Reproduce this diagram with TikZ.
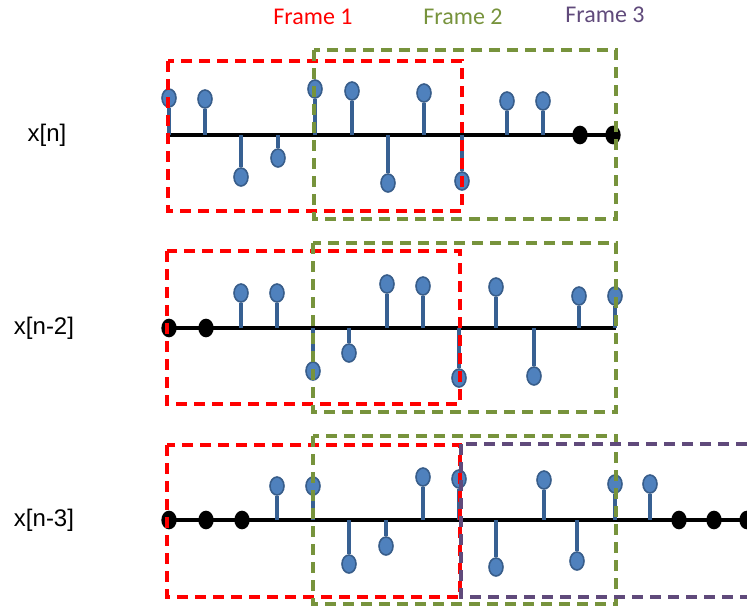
\documentclass[tikz,border=0pt]{standalone}
\usepackage{fontspec}
\setmainfont{Liberation Sans}
\newfontfamily\framefont{Carlito}
\usetikzlibrary{shapes.geometric}

\definecolor{stemblue}{HTML}{376092}
\definecolor{dotblue}{HTML}{4F81BD}
\definecolor{dotedge}{HTML}{385D8A}
\definecolor{frgreen}{HTML}{77933C}
\definecolor{frpurple}{HTML}{604A7B}

\tikzset{
  axisline/.style={line width=2.5pt, black},
  stemline/.style={line width=3.4pt, stemblue},
  lolli/.style={ellipse, fill=dotblue, draw=dotedge, line width=1.2pt,
    minimum width=10.5pt, minimum height=13.5pt, inner sep=0pt},
  zero/.style={ellipse, fill=black, minimum width=11.5pt, minimum height=14pt, inner sep=0pt},
  framebox/.style={line width=2.3pt, dash pattern=on 8.5pt off 5pt},
  lbl/.style={font=\fontsize{18}{22}\selectfont},
  ftitle/.style={font=\framefont\fontsize{18}{22}\selectfont}
}

\begin{document}
\begin{tikzpicture}[x=0.75pt, y=-0.75pt]
  \useasboundingbox (0,0) rectangle (747,608);

  % Frame titles
  \node[ftitle, text=red] (t1) at (313,17) {Frame 1};
  \node[ftitle, text=frgreen] (t2) at (463,17) {Frame 2};
  \node[ftitle, text=frpurple] (t3) at (605,15) {Frame 3};

  % Row labels
  \node[lbl] (l1) at (47,135) {x[n]};
  \node[lbl] (l2) at (44,328) {x[n-2]};
  \node[lbl] (l3) at (44,520) {x[n-3]};

  % Row 1 (x[n])
  \coordinate (a1l) at (168,135);
  \coordinate (a1r) at (615,135);
  \draw[axisline] (a1l) -- (a1r);
  \foreach \x/\v [count=\i] in {169/98, 205/99, 241/177, 278/158, 315/89, 352/91,
      388/183, 424/93, 462/181, 507/101, 543/101} {
    \coordinate (r1b\i) at (\x,135);
    \node[lolli] (r1p\i) at (\x,\v) {};
    \draw[stemline] (r1b\i) -- (r1p\i);
  }
  \foreach \x [count=\i] in {580,613}
    \node[zero] (r1z\i) at (\x,135) {};

  % Row 2 (x[n-2])
  \coordinate (a2l) at (168,328);
  \coordinate (a2r) at (616,328);
  \draw[axisline] (a2l) -- (a2r);
  \foreach \x [count=\i] in {169,206}
    \node[zero] (r2z\i) at (\x,328) {};
  \foreach \x/\v [count=\i] in {241/293, 277/293, 313/371, 349/353, 387/284, 423/286,
      459/378, 496/287, 534/376, 579/296, 615/296} {
    \coordinate (r2b\i) at (\x,328);
    \node[lolli] (r2p\i) at (\x,\v) {};
    \draw[stemline] (r2b\i) -- (r2p\i);
  }

  % Row 3 (x[n-3])
  \coordinate (a3l) at (168,520);
  \coordinate (a3r) at (760,520);
  \draw[axisline] (a3l) -- (a3r);
  \foreach \x [count=\i] in {169,206,242}
    \node[zero] (r3z\i) at (\x,520) {};
  \foreach \x/\v [count=\i] in {277/486, 313/486, 349/564, 386/546, 423/477, 459/479,
      496/567, 544/480, 577/561, 615/484, 650/484} {
    \coordinate (r3b\i) at (\x,520);
    \node[lolli] (r3p\i) at (\x,\v) {};
    \draw[stemline] (r3b\i) -- (r3p\i);
  }
  \foreach \x [count=\i] in {679,714,747}
    \node[zero] (r3e\i) at (\x,520) {};

  % Frames
  \draw[framebox, red] (168,61) rectangle (462,211);
  \draw[framebox, red] (167,251) rectangle (460,404);
  \draw[framebox, red] (167,445) rectangle (460,597);
  \draw[framebox, frgreen] (314,50) rectangle (616,219);
  \draw[framebox, frgreen] (313,243) rectangle (616,412);
  \draw[framebox, frgreen] (313,436) rectangle (616,604);
  \draw[framebox, frpurple] (461,444) rectangle (775,597);
\end{tikzpicture}
\end{document}
